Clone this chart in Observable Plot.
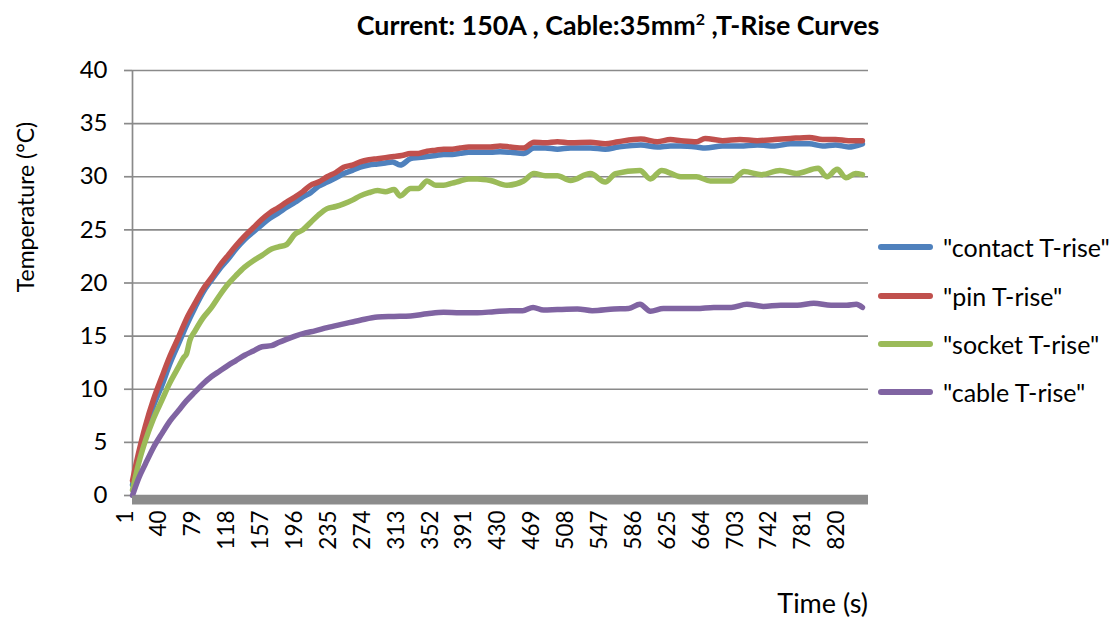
<!DOCTYPE html>
<html>
<head>
<meta charset="utf-8">
<script src="https://cdn.jsdelivr.net/npm/d3@7"></script>
<script src="https://cdn.jsdelivr.net/npm/@observablehq/plot@0.6"></script>
<style>
  body { margin: 0; background: #fff; }
  #wrap { position: relative; width: 1114px; height: 619px; font-family: Lato, "Open Sans", sans-serif; color: #000; overflow: hidden; }
  #title { height: 48px; width: 1000px; margin-left: 118px; text-align: center; font-weight: bold; font-size: 26.8px; line-height: 50px; }
  #title sup { font-size: 16px; line-height: 0; }
  #ylabel { position: absolute; left: 25px; top: 207px; transform: translate(-50%, -50%) rotate(-90deg); font-size: 23px; white-space: nowrap; }
  #xlabel { position: absolute; right: 246px; top: 586px; font-size: 27px; white-space: nowrap; }
  .leg { position: absolute; left: 878px; height: 30px; display: flex; align-items: center; font-size: 25px; white-space: nowrap; }
  .leg span.sw { display: inline-block; width: 55px; height: 5.5px; border-radius: 3px; margin-right: 10px; }
</style>
</head>
<body>
<div id="wrap">
  <div id="title">Current: 150A , Cable:35mm<sup>2</sup> ,T-Rise Curves</div>
  <div id="chart"></div>
  <div id="ylabel">Temperature (°C)</div>
  <div id="xlabel">Time (s)</div>
  <div id="legend"></div>
</div>
<script>
// ---- data (time in s, temperature rise in °C) ----
const seriesNames = ['"contact T-rise"', '"pin T-rise"', '"socket T-rise"', '"cable T-rise"'];
const seriesColors = ["#4F81BD", "#C0504D", "#9BBB59", "#8064A2"];

const contactT = [1,8,16,25,35,44,54,63,73,82,92,101,111,120,130,140,150,159,169,178,188,197,206,215,225,235,244,254,263,273,283,292,300,309,321,330,340,350,359,369,378,388,398,413,424,436,451,463,476,490,505,528,545,560,586,605,620,632,650,660,680,700,720,740,758,780,795,810,825,841];
const contactV = [1.0,3.6,6.1,8.4,10.4,12.4,14.3,16.0,17.7,19.1,20.3,21.3,22.25,23.2,24.1,24.8,25.5,26.1,26.6,27.1,27.6,28.1,28.5,29.1,29.5,29.9,30.3,30.6,30.9,31.1,31.2,31.3,31.4,31.1,31.7,31.8,31.9,32.0,32.1,32.1,32.2,32.3,32.3,32.3,32.35,32.3,32.2,32.7,32.7,32.6,32.7,32.7,32.6,32.8,33.0,32.8,32.9,32.9,32.8,32.7,32.9,32.9,33.0,32.9,33.1,33.1,32.9,33.0,32.8,33.1];

const pinT = [1,8,16,25,35,44,54,63,73,82,92,101,111,120,130,140,150,159,169,178,188,197,206,215,225,235,244,254,263,273,283,292,302,311,321,330,340,350,359,369,378,388,398,413,424,436,451,463,476,490,505,528,545,560,586,605,620,632,650,660,680,700,720,740,758,780,795,810,825,841];
const pinV = [1.4,4.0,6.6,9.0,11.2,13.1,14.9,16.6,18.1,19.4,20.5,21.6,22.6,23.5,24.4,25.2,26.0,26.6,27.1,27.6,28.1,28.6,29.2,29.5,30.0,30.4,30.9,31.1,31.4,31.6,31.7,31.8,31.9,32.0,32.2,32.2,32.4,32.5,32.6,32.6,32.7,32.8,32.8,32.8,32.9,32.8,32.7,33.25,33.2,33.3,33.2,33.25,33.1,33.3,33.55,33.3,33.5,33.4,33.3,33.6,33.4,33.5,33.4,33.5,33.6,33.7,33.5,33.5,33.4,33.4];

const socketT = [1,8,16,25,35,44,54,60,63,67,73,82,92,101,111,120,130,140,150,161,169,178,188,197,206,215,225,235,244,254,263,273,283,292,302,309,321,330,340,350,359,369,378,388,398,413,432,451,463,476,490,505,528,545,557,585,597,610,632,650,666,690,705,725,746,765,790,800,812,822,833,841];
const socketV = [0.5,3.0,5.2,7.2,9.0,10.6,12.1,13.0,13.3,14.6,15.5,16.7,17.7,18.8,19.9,20.7,21.5,22.1,22.6,23.2,23.4,23.6,24.6,25.0,25.7,26.4,27.0,27.2,27.45,27.8,28.2,28.5,28.7,28.6,28.8,28.2,28.9,28.9,29.6,29.2,29.2,29.4,29.6,29.8,29.8,29.65,29.2,29.6,30.3,30.1,30.1,29.65,30.3,29.5,30.3,30.6,29.8,30.6,30.0,30.0,29.6,29.6,30.5,30.2,30.6,30.3,30.8,30.0,30.7,29.9,30.3,30.2];

const cableT = [1,8,16,25,35,44,54,63,73,82,92,101,111,120,130,140,150,161,169,178,188,200,211,225,244,263,283,302,321,340,359,378,398,417,436,450,462,474,490,513,530,555,572,585,597,612,631,650,670,690,708,727,747,766,785,805,823,834,841];
const cableV = [0.0,1.6,3.0,4.5,5.85,7.0,8.0,8.9,9.75,10.5,11.2,11.7,12.25,12.7,13.2,13.6,14.0,14.1,14.4,14.7,15.0,15.3,15.5,15.8,16.15,16.5,16.8,16.85,16.9,17.1,17.25,17.2,17.2,17.3,17.4,17.4,17.7,17.45,17.5,17.55,17.4,17.55,17.6,18.0,17.35,17.6,17.6,17.6,17.7,17.7,18.0,17.8,17.9,17.9,18.1,17.9,17.9,18.0,17.7];

const xTickLabels = [1,40,79,118,157,196,235,274,313,352,391,430,469,508,547,586,625,664,703,742,781,820];
const yTickLabels = [0,5,10,15,20,25,30,35,40];

// ---- build a long table for Plot ----
const seriesT = [contactT, pinT, socketT, cableT];
const seriesV = [contactV, pinV, socketV, cableV];
const rows = [];
seriesNames.forEach((name, k) => {
  seriesT[k].forEach((t, i) => rows.push({series: name, t, v: seriesV[k][i]}));
});

const grid = "#8a8a8a";
const chart = Plot.plot({
  width: 1114,
  height: 571,
  marginTop: 22,
  marginBottom: 124,
  marginLeft: 132,
  marginRight: 246,
  style: {fontFamily: "Lato, 'Open Sans', sans-serif", fontSize: "22px", color: "#000", background: "#fff"},
  x: {domain: [1, 848], axis: null},
  y: {domain: [0, 40], axis: null},
  color: {domain: seriesNames, range: seriesColors},
  marks: [
    Plot.ruleY(yTickLabels, {y: d => d, stroke: grid, strokeWidth: 1.7}),
    Plot.axisY(yTickLabels, {tickSize: 8, tickPadding: 17, stroke: grid, strokeWidth: 1.7, fontSize: 24, label: null, tickFormat: d => d}),
    Plot.ruleX([1], {stroke: grid, strokeWidth: 1.7}),
    Plot.line(rows, {x: "t", y: "v", z: "series", stroke: "series", strokeWidth: 5.5, strokeLinejoin: "round", strokeLinecap: "round", curve: "monotone-x"}),
    Plot.ruleY([0], {stroke: "#8c8c8c", strokeWidth: 9, dy: 4.5}),
    Plot.text(xTickLabels, {x: d => d, frameAnchor: "bottom", dy: 15, rotate: -90, textAnchor: "end", fontSize: 22.5, text: d => String(d)})
  ]
});
document.getElementById("chart").appendChild(chart);

// ---- legend ----
const legendY = [247, 296, 344, 392];
const legend = document.getElementById("legend");
seriesNames.forEach((name, k) => {
  const d = document.createElement("div");
  d.className = "leg";
  d.style.top = (legendY[k] - 15) + "px";
  const sw = document.createElement("span");
  sw.className = "sw";
  sw.style.background = seriesColors[k];
  const tx = document.createElement("span");
  tx.textContent = name;
  d.appendChild(sw); d.appendChild(tx);
  legend.appendChild(d);
});
</script>
</body>
</html>
